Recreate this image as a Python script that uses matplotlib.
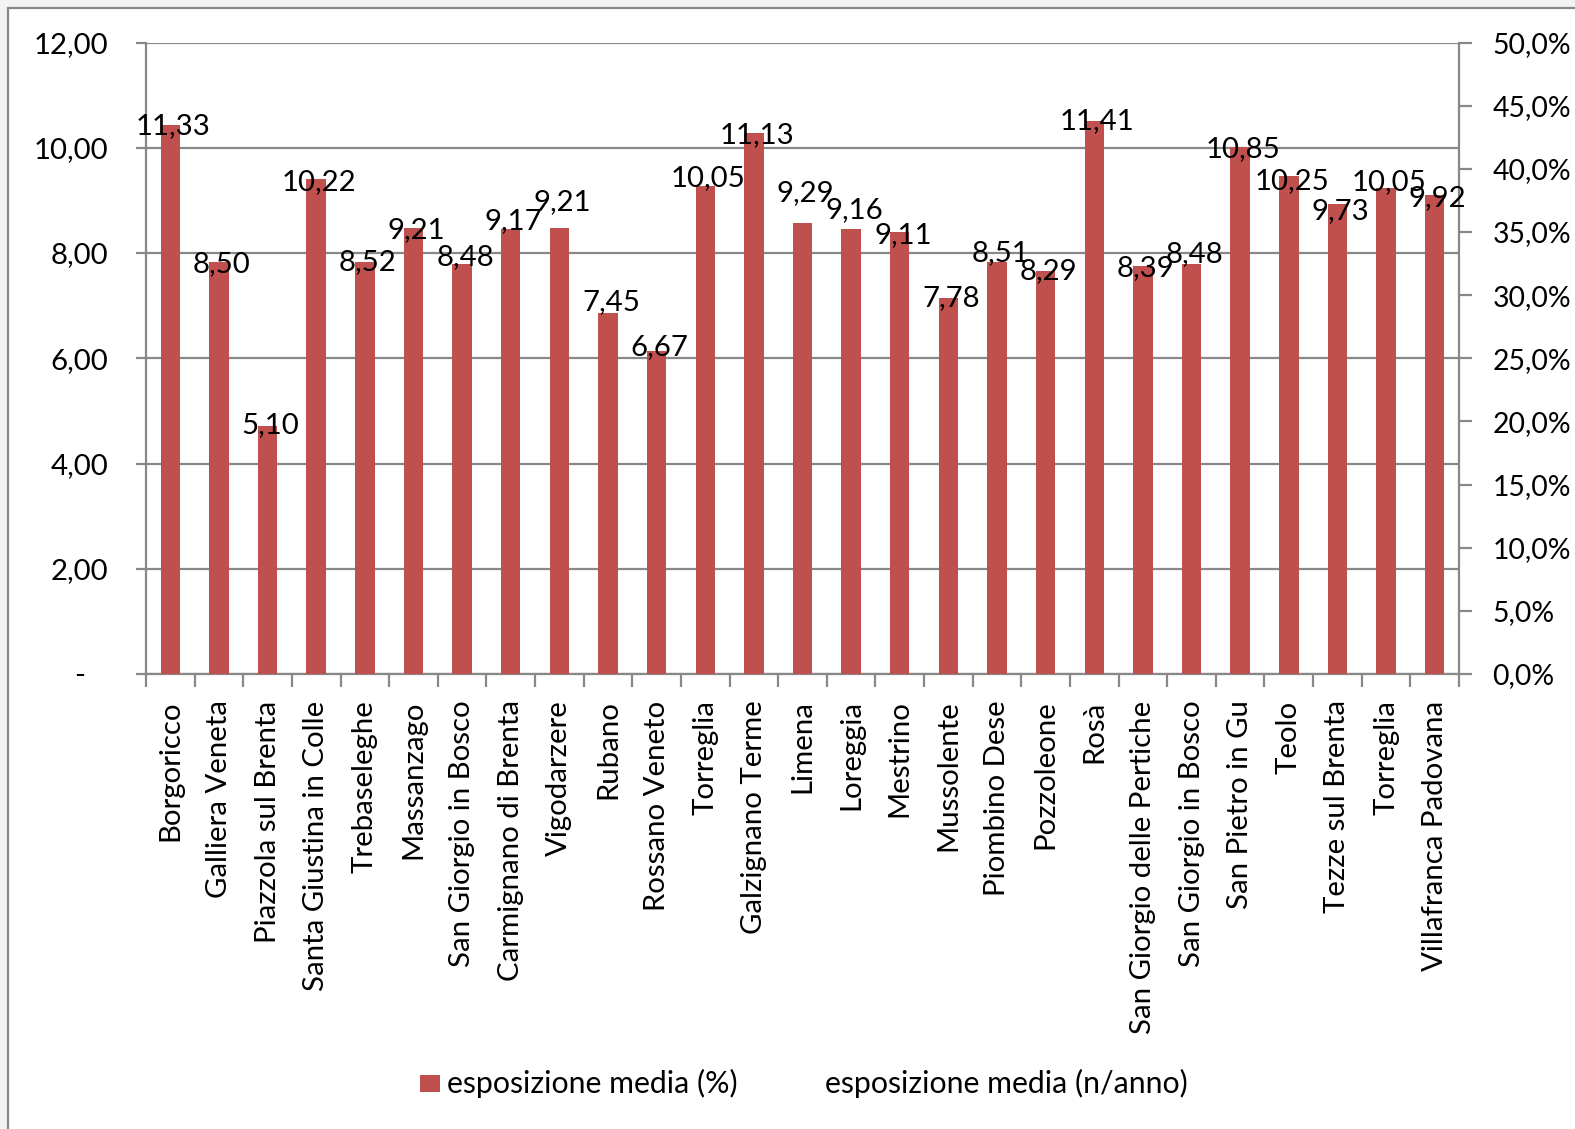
import matplotlib
matplotlib.use("Agg")
import matplotlib.pyplot as plt
from matplotlib.patches import Rectangle
from matplotlib.ticker import FuncFormatter, MultipleLocator, FixedLocator

plt.rcParams['font.family'] = ['Lato', 'DejaVu Sans']

categories = ["Borgoricco", "Galliera Veneta", "Piazzola sul Brenta", "Santa Giustina in Colle",
              "Trebaseleghe", "Massanzago", "San Giorgio in Bosco", "Carmignano di Brenta",
              "Vigodarzere", "Rubano", "Rossano Veneto", "Torreglia", "Galzignano Terme",
              "Limena", "Loreggia", "Mestrino", "Mussolente", "Piombino Dese", "Pozzoleone",
              "Rosà", "San Giorgio delle Pertiche", "San Giorgio in Bosco", "San Pietro in Gu",
              "Teolo", "Tezze sul Brenta", "Torreglia", "Villafranca Padovana"]

esposizione_pct = [43.5, 32.6, 19.6, 39.2, 32.6, 35.3, 32.5, 35.2, 35.3, 28.6, 25.6, 38.6, 42.8,
                   35.7, 35.2, 35.0, 29.8, 32.6, 31.9, 43.8, 32.3, 32.5, 41.7, 39.4, 37.2, 38.5, 37.9]

esposizione_n_anno = [11.33, 8.50, 5.10, 10.22, 8.52, 9.21, 8.48, 9.17, 9.21, 7.45, 6.67, 10.05, 11.13,
                      9.29, 9.16, 9.11, 7.78, 8.51, 8.29, 11.41, 8.39, 8.48, 10.85, 10.25, 9.73, 10.05, 9.92]

# layout: vertical nudge of each data label in pixels (positive = down), as placed in the original
label_nudge_px = [1, 2, -1, 3, 0, 2, -6, -8, -26, -11, -4, -8, 2, -30, -19, 3, 0, -9, 0, 0, 2, -9, 2, 5, 7, -6, 3]

W, H = 1575, 1129
FS = 21.2
fig = plt.figure(figsize=(W / 100, H / 100), dpi=100)
fig.patch.set_facecolor('#f3f3f3')
GRAY = '#888888'

# chart area frame
fig.patches.append(Rectangle((8 / W, -0.05), 1.1, 1 - 8 / H + 0.05, transform=fig.transFigure,
                             facecolor='white', edgecolor=GRAY, linewidth=1.6, zorder=-10))

left, right, top, bottom = 146 / W, 1459 / W, 1 - 42.5 / H, 1 - 674 / H
ax1 = fig.add_axes([left, bottom, right - left, top - bottom])
ax1.set_facecolor('none')
ax2 = ax1.twinx()

n = len(categories)
x = list(range(n))

ax1.set_ylim(0, 12)
ax1.yaxis.set_major_locator(MultipleLocator(2))
ax1.yaxis.set_major_formatter(FuncFormatter(lambda v, p: "-   " if abs(v) < 1e-9 else f"{v:.2f}".replace('.', ',')))
ax1.grid(axis='y', color=GRAY, linewidth=1.6)
ax1.set_axisbelow(True)

ax2.set_ylim(0, 50)
ax2.yaxis.set_major_locator(MultipleLocator(5))
ax2.yaxis.set_major_formatter(FuncFormatter(lambda v, p: f"{v:.1f}%".replace('.', ',')))

ax2.bar(x, esposizione_pct, width=0.4, color='#C0504D', zorder=3)

for i, (val, pct) in enumerate(zip(esposizione_n_anno, esposizione_pct)):
    ax2.annotate(f"{val:.2f}".replace('.', ','), (i, pct), xytext=(2.2, -label_nudge_px[i] * 0.72),
                 textcoords='offset points', ha='center', va='center', fontsize=FS, color='black',
                 zorder=5)

ax1.set_xlim(-0.5, n - 0.5)
ax1.set_xticks(x)
ax1.set_xticklabels(categories, rotation=90, fontsize=FS, va='top', ha='center')
ax1.xaxis.set_minor_locator(FixedLocator([i - 0.5 for i in range(n + 1)]))
ax1.tick_params(axis='x', which='major', length=0, pad=19)
ax1.tick_params(axis='x', which='minor', length=9, width=1.6, color=GRAY, direction='out')
ax1.tick_params(axis='y', length=7, width=1.6, color=GRAY, labelsize=FS, pad=20)
ax2.tick_params(axis='y', length=9, width=1.6, color=GRAY, labelsize=20.4, pad=15)

for ax in (ax1, ax2):
    ax.spines['top'].set_visible(False)
    for s in ('left', 'right', 'bottom'):
        ax.spines[s].set_color(GRAY)
        ax.spines[s].set_linewidth(1.6)
ax1.spines['right'].set_visible(False)
ax2.spines['left'].set_visible(False)
ax2.spines['bottom'].set_visible(False)

# legend
fig.patches.append(Rectangle((420 / W, 1 - 1092 / H), 20 / W, 17 / H, transform=fig.transFigure,
                             facecolor='#C0504D', edgecolor='none'))
fig.text(447 / W, 1 - 1083 / H, "esposizione media (%)", fontsize=21.8, va='center', ha='left')
fig.text(825 / W, 1 - 1083 / H, "esposizione media (n/anno)", fontsize=21.8, va='center', ha='left')

fig.savefig("out.png", dpi=100, facecolor=fig.get_facecolor())
